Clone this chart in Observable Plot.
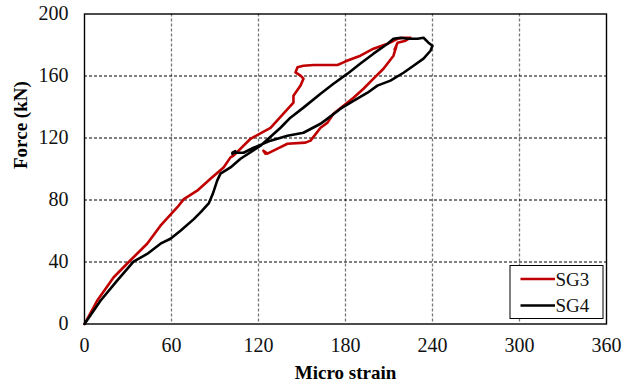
<!DOCTYPE html>
<html>
<head>
<meta charset="utf-8">
<script src="https://cdn.jsdelivr.net/npm/d3@7"></script>
<script src="https://cdn.jsdelivr.net/npm/@observablehq/plot@0.6"></script>
<style>
  html, body { margin: 0; padding: 0; background: #fff; }
  #chart { width: 635px; height: 389px; }
</style>
</head>
<body>
<div id="chart"></div>
<script>
const xTicks = [0, 60, 120, 180, 240, 300, 360];
const yTicks = [0, 40, 80, 120, 160, 200];
const seriesNames = ["SG3", "SG4"];
const seriesColors = ["#c00000", "#000000"];

const sg3Strain = [0, 8.7, 20, 30.5, 43.2, 52.4, 63.9, 68.5, 77.7, 86.9, 95.9, 100.7, 102.8, 114.5, 128.3, 137.2, 144.1, 144.1, 149, 151, 149, 145.5, 146.9, 151, 158, 174.5, 178.6, 181.4, 190.3, 199.3, 209, 215.9, 220, 224.8, 221.4, 215.9, 213.8, 215, 213.1, 206.2, 199.3, 192.4, 185.5, 178.6, 171.7, 167.6, 162.8, 155.9, 152.4, 140, 133.1, 126.2, 123.4, 124.8];
const sg3Force = [0, 15, 30, 40, 51.8, 63.4, 75.2, 80.6, 86, 93.7, 101, 107.5, 108.6, 119.5, 126.6, 135.7, 142.8, 147.3, 153.8, 158.3, 160.2, 162.3, 165.6, 166.6, 167.1, 167.1, 168.8, 170, 173.1, 177.6, 180.8, 184, 184.7, 184.7, 182.8, 181.5, 177, 179, 173.1, 164.7, 158.3, 151.8, 146, 140.8, 135.7, 129.9, 126.6, 118.3, 117, 116.3, 113.1, 109.9, 111.8, 109.9];

const sg4Strain = [0, 11, 22.5, 33.8, 43.2, 52.4, 59.3, 66.2, 75.2, 80.5, 85.8, 88.5, 91.5, 93.8, 100.7, 107.6, 121.4, 135.2, 142, 151, 162.8, 171.7, 181.4, 190.3, 199.3, 209, 213.1, 218, 222.8, 229.7, 233.8, 237.2, 240, 238.6, 233.8, 226.9, 220, 211, 202, 195.2, 185.5, 176.6, 167.6, 162.8, 151, 140, 128.3, 116.6, 109.7, 102, 104, 102];
const sg4Force = [0, 15, 28, 40.2, 45.2, 51.8, 55, 60.2, 67.5, 72.5, 78, 84, 92.5, 97, 101, 106.6, 115, 126.6, 133.1, 139.6, 148.6, 155, 161.5, 168, 174.4, 180.8, 184, 184.7, 184, 184, 184.7, 181.5, 179.5, 176.3, 171.2, 166.6, 162.1, 157, 153.8, 149.2, 144, 138.9, 132.5, 129.2, 123.4, 121.5, 118.3, 113.7, 110.5, 110.5, 111.5, 109.8];

const sg3 = sg3Strain.map((s, i) => ({strain: s, force: sg3Force[i], series: "SG3"}));
const sg4 = sg4Strain.map((s, i) => ({strain: s, force: sg4Force[i], series: "SG4"}));

const font = "Liberation Serif";

const plot = Plot.plot({
  width: 635,
  height: 389,
  marginLeft: 84,
  marginRight: 29,
  marginTop: 13.5,
  marginBottom: 65.5,
  style: {fontFamily: font, fontSize: "19px", color: "#111", background: "#fff"},
  x: {domain: [0, 360], ticks: xTicks, axis: null},
  y: {domain: [0, 200], ticks: yTicks, axis: null},
  marks: [
    Plot.ruleX(xTicks.slice(1, -1), {stroke: "#777", strokeWidth: 1.3, strokeDasharray: "3,2"}),
    Plot.ruleY(yTicks.slice(1, -1), {stroke: "#000", strokeWidth: 1, strokeDasharray: "3,2"}),
    // tick labels via the x / y scales
    Plot.text(xTicks, {x: d => d, frameAnchor: "bottom", dy: 28, fontSize: 20, fontFamily: font, fill: "#111"}),
    Plot.text(yTicks, {y: d => d, frameAnchor: "left", dx: -16, textAnchor: "end", fontSize: 20, fontFamily: font, fill: "#111"}),
    Plot.line(sg3, {x: "strain", y: "force", stroke: seriesColors[0], strokeWidth: 2.6, strokeLinejoin: "round"}),
    Plot.line(sg4, {x: "strain", y: "force", stroke: seriesColors[1], strokeWidth: 2.6, strokeLinejoin: "round"}),
    Plot.frame({stroke: "#000", strokeWidth: 1.4}),
    Plot.text(["Micro strain"], {frameAnchor: "bottom", dy: 55, fontWeight: "bold", fontSize: 19, fill: "#000", fontFamily: font}),
    Plot.text(["Force (kN)"], {frameAnchor: "left", dx: -64, rotate: -90, fontWeight: "bold", fontSize: 19, fill: "#000", fontFamily: font})
  ]
});
document.getElementById("chart").appendChild(plot);

// Legend drawn inside the plot area, bottom-right
const svg = d3.select(plot);
const xs = plot.scale("x"), ys = plot.scale("y");
const right = xs.apply(360) - 3, bottom = ys.apply(0) - 5;
const lg = svg.append("g").attr("font-family", font).attr("font-size", 19).attr("text-anchor", "start");
const boxW = 93, boxH = 53;
lg.append("rect").attr("x", right - boxW).attr("y", bottom - boxH).attr("width", boxW).attr("height", boxH)
  .attr("fill", "#fff").attr("stroke", "#000").attr("stroke-width", 1);
seriesNames.forEach((name, i) => {
  const yy = bottom - boxH + 13.5 + i * 26.5;
  lg.append("line").attr("x1", right - boxW + 10.5).attr("x2", right - boxW + 45).attr("y1", yy).attr("y2", yy)
    .attr("stroke", seriesColors[i]).attr("stroke-width", 2.6);
  lg.append("text").attr("x", right - boxW + 45.5).attr("y", yy).attr("dy", "0.35em").attr("fill", "#111").text(name);
});
</script>
</body>
</html>
